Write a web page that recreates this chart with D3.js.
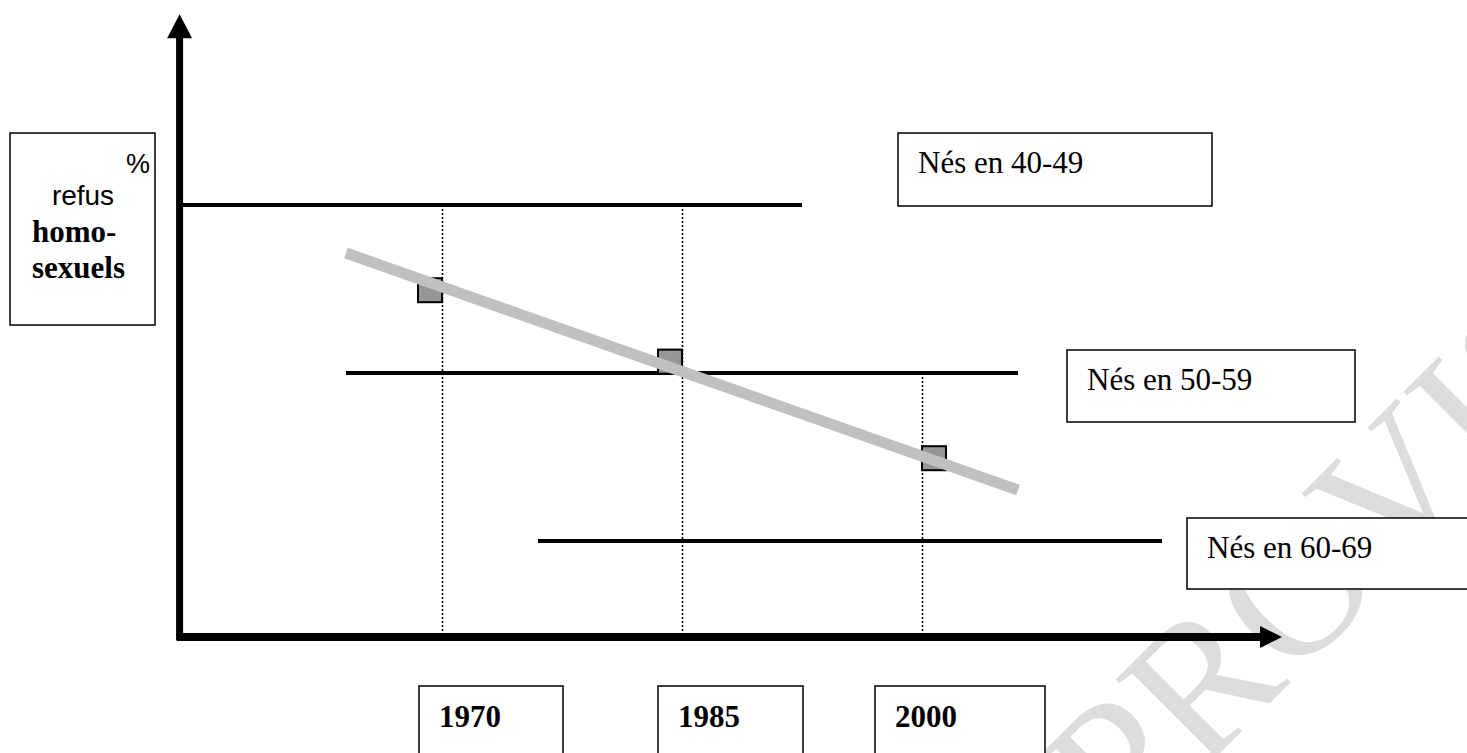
<!DOCTYPE html>
<html>
<head>
<meta charset="utf-8">
<script src="https://cdn.jsdelivr.net/npm/d3@7"></script>
<style>
  body { margin: 0; background: #fff; }
  svg { display: block; }
</style>
</head>
<body>
<div id="plot"></div>
<script>
// schematic : refus des homosexuels par cohorte de naissance

  const w = 1467;
  const h = 753;

  // data
  const years = [1970, 1985, 2000];
  const cohorts = ["Nés en 40-49", "Nés en 50-59", "Nés en 60-69"];
  const cohortLevel = [72, 44, 16];          // % refus (schéma)
  const cohortFrom = [1953.75, 1964, 1976];
  const cohortTo = [1992.5, 2006, 2015];
  const observed = [57.8, 45.9, 29.8];        // carrés gris
  const trendYears = [1964, 2006];
  const trendValues = [64, 24.5];
  const yLabel = ["%", "refus", "homo-", "sexuels"];
  const watermark = "PROVISOIRE";

  const xScale = d3.scaleLinear()
      .domain([1970, 2000])
      .range([442, 922]);

  const yScale = d3.scaleLinear()
      .domain([0, 100])
      .range([637, 37]);

  const x0 = xScale(1953.6), y0 = yScale(0);
  const xTip = xScale(2022.5), yTip = yScale(103.8);

  const serif = "'Liberation Serif', 'Times New Roman', serif";
  const sans = "'Liberation Sans', Arial, sans-serif";

  const svg = d3.select("div#plot")
      .append("svg")
      .attr("width", w)
      .attr("height", h);

  svg.append("rect")
      .attr("width", w)
      .attr("height", h)
      .attr("fill", "white");

  // filigrane
  svg.append("text")
      .attr("transform", "translate(1125, 848) rotate(-45)")
      .attr("font-family", serif)
      .attr("font-size", 192)
      .attr("fill", "#dcdcdc")
      .text(watermark);

  // lignes pointillées des années
  const topLevel = years.map(yr => {
    const idx = cohortLevel.findIndex((lv, i) => yr >= cohortFrom[i] && yr <= cohortTo[i]);
    return cohortLevel[idx];
  });

  svg.append("g")
    .selectAll("line")
    .data(years)
    .join("line")
      .attr("x1", d => xScale(d) + 0.5)
      .attr("x2", d => xScale(d) + 0.5)
      .attr("y1", (d, i) => yScale(topLevel[i]))
      .attr("y2", y0)
      .attr("stroke", "black")
      .attr("stroke-width", 1.6)
      .attr("stroke-dasharray", "2 2");

  // lignes des cohortes
  svg.append("g")
    .selectAll("line")
    .data(cohorts)
    .join("line")
      .attr("x1", (d, i) => xScale(cohortFrom[i]))
      .attr("x2", (d, i) => xScale(cohortTo[i]))
      .attr("y1", (d, i) => yScale(cohortLevel[i]))
      .attr("y2", (d, i) => yScale(cohortLevel[i]))
      .attr("stroke", "black")
      .attr("stroke-width", 4);

  // carrés observés
  const sq = 24;
  svg.append("g")
    .selectAll("rect")
    .data(observed)
    .join("rect")
      .attr("x", (d, i) => xScale(years[i]) + (i === 2 ? 0 : -sq))
      .attr("y", d => yScale(d) - sq / 2)
      .attr("width", sq)
      .attr("height", sq)
      .attr("fill", "#969696")
      .attr("stroke", "black")
      .attr("stroke-width", 2);

  // tendance
  svg.append("line")
      .attr("x1", xScale(trendYears[0]))
      .attr("y1", yScale(trendValues[0]))
      .attr("x2", xScale(trendYears[1]))
      .attr("y2", yScale(trendValues[1]))
      .attr("stroke", "#c0c0c0")
      .attr("stroke-width", 11);

  // axes avec flèches
  svg.append("line")
      .attr("x1", x0).attr("x2", x0)
      .attr("y1", y0 + 3).attr("y2", yTip + 22)
      .attr("stroke", "black")
      .attr("stroke-width", 7);

  svg.append("line")
      .attr("x1", x0 - 3).attr("x2", xTip - 20)
      .attr("y1", y0).attr("y2", y0)
      .attr("stroke", "black")
      .attr("stroke-width", 8);

  svg.append("path")
      .attr("d", `M${x0},${yTip} L${x0 - 12.5},${yTip + 24} L${x0 + 12.5},${yTip + 24} Z`)
      .attr("fill", "black");

  svg.append("path")
      .attr("d", `M${xTip},${y0} L${xTip - 22},${y0 - 11} L${xTip - 22},${y0 + 11} Z`)
      .attr("fill", "black");

  // boîte du titre de l'axe vertical
  const ybox = svg.append("g");
  ybox.append("rect")
      .attr("x", 10).attr("y", 133)
      .attr("width", 145).attr("height", 192)
      .attr("fill", "white")
      .attr("stroke", "black")
      .attr("stroke-width", 1.5);
  ybox.append("text")
      .attr("x", 150).attr("y", 173)
      .attr("text-anchor", "end")
      .attr("font-family", sans).attr("font-size", 27)
      .text(yLabel[0]);
  ybox.append("text")
      .attr("x", 83).attr("y", 205)
      .attr("text-anchor", "middle")
      .attr("font-family", sans).attr("font-size", 28)
      .text(yLabel[1]);
  ybox.append("text")
      .attr("x", 32).attr("y", 242)
      .attr("font-family", serif).attr("font-size", 31).attr("font-weight", "bold")
      .text(yLabel[2]);
  ybox.append("text")
      .attr("x", 32).attr("y", 278)
      .attr("font-family", serif).attr("font-size", 31).attr("font-weight", "bold")
      .text(yLabel[3]);

  // étiquettes des cohortes
  const cohortBox = [
    {x: 898, y: 133, w: 314, h: 73},
    {x: 1067, y: 350, w: 288, h: 72},
    {x: 1187, y: 518, w: 290, h: 71}
  ];

  const cg = svg.append("g")
    .selectAll("g")
    .data(cohorts)
    .join("g");

  cg.append("rect")
      .attr("x", (d, i) => cohortBox[i].x)
      .attr("y", (d, i) => cohortBox[i].y)
      .attr("width", (d, i) => cohortBox[i].w)
      .attr("height", (d, i) => cohortBox[i].h)
      .attr("fill", "white")
      .attr("stroke", "black")
      .attr("stroke-width", 1.5);

  cg.append("text")
      .attr("x", (d, i) => cohortBox[i].x + 20)
      .attr("y", (d, i) => cohortBox[i].y + 40)
      .attr("font-family", serif)
      .attr("font-size", 31)
      .text(d => d);

  // étiquettes des années
  const yearBox = [
    {dx: -23, w: 144},
    {dx: -24, w: 145},
    {dx: -47, w: 170}
  ];

  const yg = svg.append("g")
    .selectAll("g")
    .data(years)
    .join("g");

  yg.append("rect")
      .attr("x", (d, i) => xScale(d) + yearBox[i].dx)
      .attr("y", 686)
      .attr("width", (d, i) => yearBox[i].w)
      .attr("height", 90)
      .attr("fill", "white")
      .attr("stroke", "black")
      .attr("stroke-width", 1.5);

  yg.append("text")
      .attr("x", (d, i) => xScale(d) + yearBox[i].dx + 20)
      .attr("y", 727)
      .attr("font-family", serif)
      .attr("font-size", 31)
      .attr("font-weight", "bold")
      .text(d => d);

</script>
</body>
</html>
